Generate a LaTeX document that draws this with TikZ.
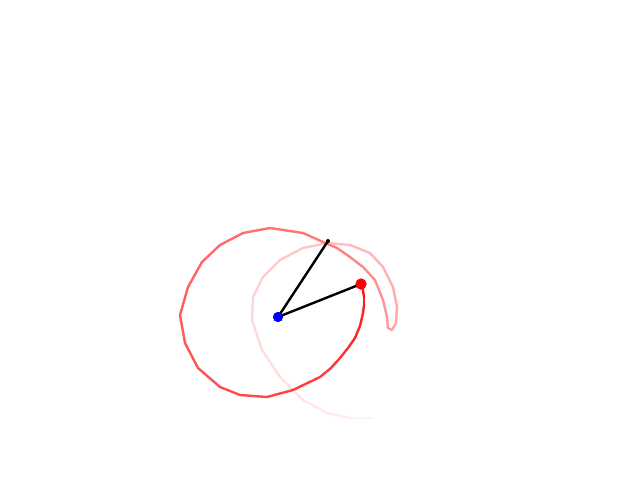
\documentclass[tikz,border=0pt]{standalone}
\begin{document}
\begin{tikzpicture}[x=1pt,y=-1pt,
  trace/.style={line width=2.4pt,line cap=round},
  rod/.style={line width=2.4pt,black,line cap=round},
  pivot/.style={circle,fill=blue,inner sep=0pt,minimum size=10pt},
  bob/.style={circle,fill=red,inner sep=0pt,minimum size=11pt},
  joint/.style={circle,fill=black,inner sep=0pt,minimum size=4pt}]
\useasboundingbox (0,0) rectangle (640,480);
\foreach \pt [count=\i, remember=\pt as \prev (initially {(373,418)})] in
 {(350,418),(327,413),(303,400),(280,377),(262,350),(252,320),(253,297),(263,277),
  (280,260),(303,248),(328,243),(350,245),(370,253),(383,267),(393,287),(397,307),
  (396,323),(392,330),(388,328),(387,317),(383,300),(375,280),(363,267),(350,257),
  (337,248),(323,242),(303,233),(270,228),(243,233),(220,245),(202,262),(188,287),
  (180,315),(185,343),(198,368),(220,387),(240,395),(267,397),(293,390),(320,377),
  (331,368),(340,358),(348,348),(355,338),(360,326),(363,313),(364,305),(364,297),(362,284)}
{
  \pgfmathtruncatemacro\mix{min(92,4+1.8*\i)}
  \draw[trace, red!\mix!white] \prev -- \pt;
}
\coordinate (j) at (328,241);
\node[pivot] (o) at (278,317) {};
\node[bob] (b) at (361,284) {};
\draw[rod] (o.center) -- (j);
\draw[rod] (o.center) -- (b.center);
\node[pivot] at (o) {};
\node[bob] at (b) {};
\node[joint] (jd) at (j) {};
\end{tikzpicture}
\end{document}
